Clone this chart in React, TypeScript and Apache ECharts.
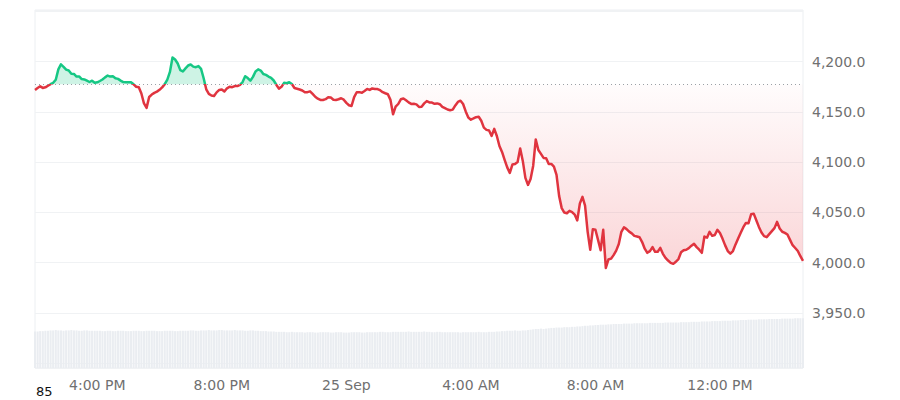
import React, { useEffect, useRef } from "react";
import * as echarts from "echarts";

// ---- data (5-minute steps, starting 24 Sep 14:00) ----
const START_HOUR = 14; // 24 Sep, 14:00
const STEP_MIN = 5;
const BASELINE = 4177.5;

const prices = [
  4171.9, 4173.8, 4175.5, 4173.9, 4174.5, 4176.1, 4177.6, 4179.0, 4182.1, 4192.4,
  4197.3, 4194.9, 4192.1, 4191.3, 4188.0, 4187.8, 4185.2, 4185.4, 4182.7, 4182.4,
  4181.1, 4179.8, 4181.1, 4179.1, 4179.5, 4180.8, 4182.3, 4184.4, 4186.2, 4185.2,
  4185.5, 4183.5, 4182.9, 4181.2, 4179.7, 4179.5, 4179.5, 4179.5, 4177.5, 4175.1,
  4174.5, 4168.3, 4158.4, 4154.0, 4164.9, 4167.3, 4169.0, 4170.2, 4172.0, 4174.4,
  4177.7, 4182.2, 4189.8, 4204.2, 4202.2, 4198.2, 4191.6, 4190.3, 4193.4, 4196.2,
  4197.2, 4195.1, 4194.5, 4195.7, 4192.9, 4183.5, 4172.5, 4168.0, 4166.4, 4165.8,
  4169.5, 4171.9, 4172.4, 4170.3, 4173.5, 4175.1, 4174.6, 4175.8, 4175.8, 4177.0,
  4179.7, 4185.6, 4183.7, 4181.1, 4184.9, 4190.3, 4192.4, 4191.2, 4187.7, 4186.9,
  4185.2, 4183.9, 4181.3, 4177.1, 4173.2, 4175.0, 4179.0, 4178.6, 4179.6, 4177.8,
  4173.8, 4173.1, 4172.3, 4171.3, 4169.5, 4169.7, 4170.5, 4167.9, 4165.1, 4163.2,
  4161.9, 4161.9, 4162.7, 4164.7, 4164.3, 4162.2, 4161.9, 4162.6, 4163.6, 4162.2,
  4159.0, 4156.7, 4155.9, 4164.7, 4169.6, 4169.7, 4169.1, 4170.9, 4172.8, 4171.9,
  4173.4, 4172.9, 4172.8, 4171.6, 4169.7, 4168.6, 4167.6, 4162.0, 4147.7, 4155.2,
  4157.9, 4162.6, 4163.4, 4161.6, 4159.5, 4158.0, 4158.1, 4157.5, 4155.0, 4155.2,
  4158.5, 4160.8, 4159.5, 4159.3, 4158.1, 4158.5, 4157.7, 4155.1, 4153.8, 4152.4,
  4151.7, 4152.3, 4156.5, 4160.0, 4161.2, 4157.9, 4150.5, 4144.4, 4142.3, 4143.5,
  4144.8, 4145.2, 4141.2, 4134.4, 4132.1, 4131.5, 4126.1, 4133.1, 4126.0, 4116.1,
  4110.2, 4102.3, 4094.8, 4089.3, 4097.6, 4098.1, 4100.2, 4113.6, 4101.2, 4084.3,
  4077.3, 4083.3, 4096.2, 4122.6, 4112.1, 4108.2, 4104.2, 4103.8, 4098.2, 4098.2,
  4095.5, 4087.3, 4066.4, 4054.2, 4049.8, 4049.1, 4051.5, 4050.3, 4047.8, 4042.0,
  4058.8, 4065.4, 4056.6, 4030.6, 4012.7, 4033.2, 4032.7, 4022.6, 4012.2, 4032.6,
  3994.7, 4003.0, 4003.9, 4007.4, 4011.9, 4018.4, 4030.6, 4035.1, 4033.3, 4030.8,
  4029.1, 4026.6, 4026.0, 4025.2, 4020.4, 4013.8, 4009.7, 4011.4, 4015.4, 4010.7,
  4010.7, 4014.6, 4008.7, 4004.7, 4002.0, 3999.7, 3998.7, 4000.8, 4003.5, 4010.2,
  4012.2, 4012.8, 4014.4, 4016.8, 4018.6, 4015.4, 4012.8, 4009.7, 4025.9, 4024.8,
  4030.6, 4026.6, 4027.4, 4032.6, 4029.4, 4023.6, 4017.1, 4011.5, 4008.9, 4011.5,
  4018.1, 4024.0, 4029.7, 4035.2, 4039.5, 4039.2, 4048.1, 4048.7, 4042.2, 4035.5,
  4030.0, 4026.3, 4025.3, 4028.3, 4031.3, 4034.3, 4040.5, 4034.0, 4030.7, 4029.6,
  4027.9, 4022.6, 4017.3, 4014.5, 4011.5, 4006.3, 4001.7,
];

const volumes = [
  10.2, 10.2, 10.3, 10.3, 10.4, 10.4,
  10.5, 10.5, 10.6, 10.5, 10.5, 10.4, 10.5, 10.5, 10.6, 10.5, 10.5, 10.4, 10.4, 10.5, 10.5, 10.4, 10.4, 10.4, 10.4,
  10.4, 10.3, 10.3, 10.4, 10.4, 10.3, 10.3, 10.4, 10.4, 10.4, 10.3, 10.3, 10.3, 10.4, 10.4, 10.4, 10.3, 10.3, 10.4, 10.4,
  10.4, 10.4, 10.3, 10.3, 10.3, 10.4, 10.4, 10.4, 10.4, 10.3, 10.3, 10.4, 10.4, 10.4, 10.4, 10.5, 10.5, 10.4, 10.4,
  10.5, 10.5, 10.5, 10.6, 10.5, 10.5, 10.5, 10.6, 10.6, 10.5, 10.5, 10.5, 10.5, 10.6, 10.5, 10.5, 10.5, 10.4, 10.4, 10.5,
  10.5, 10.4, 10.4, 10.3, 10.3,
  10.3, 10.2, 10.2, 10.2, 10.1, 10.1, 10.1, 10.1, 10.0, 10.0, 10.1, 10.0, 10.0,
  10.0, 10.0, 9.9, 10.0, 10.0, 10.0, 9.9, 9.9, 10.0, 10.0, 10.0, 10.0, 9.9, 9.9, 10.0, 10.0, 10.0, 9.9, 9.9, 9.9,
  10.0, 10.0, 10.0, 10.0, 9.9, 9.9, 10.0, 10.0, 10.0, 10.0, 10.0, 10.1, 10.1, 10.0, 10.0, 10.0, 10.1, 10.1, 10.1,
  10.1, 10.1, 10.1, 10.2, 10.1, 10.1, 10.1, 10.1, 10.1, 10.2, 10.1, 10.1, 10.0, 10.0, 10.1, 10.1, 10.0, 10.0, 10.0,
  10.0, 10.0, 10.0, 10.0, 9.9, 10.0, 10.0, 10.0, 10.0, 10.0, 10.0, 10.1, 10.0, 10.0, 10.0, 10.1, 10.1, 10.1, 10.2,
  10.2, 10.3, 10.3, 10.4, 10.4, 10.4, 10.5, 10.4, 10.4, 10.5, 10.5, 10.6, 10.7,
  10.8, 10.9, 10.9, 11.0, 10.9, 11.0, 11.1,
  11.2, 11.2, 11.3, 11.3, 11.3, 11.4, 11.4, 11.4, 11.5, 11.5, 11.6, 11.6, 11.7,
  11.8, 11.8, 11.9, 11.9, 12.0, 12.0, 12.1, 12.1, 12.1, 12.2, 12.2, 12.3, 12.3,
  12.3, 12.3, 12.4, 12.4, 12.4, 12.4, 12.5, 12.5, 12.5, 12.5, 12.5, 12.5, 12.6, 12.6, 12.6, 12.6, 12.6, 12.6, 12.7, 12.7,
  12.7, 12.7, 12.7, 12.7, 12.8, 12.8,
  12.8, 12.8, 12.9, 12.9, 12.9, 12.9, 13.0, 13.0, 13.0, 13.0, 13.1, 13.1, 13.1, 13.1, 13.2, 13.2, 13.2, 13.2, 13.3, 13.3,
  13.3, 13.4, 13.4, 13.4, 13.5, 13.5,
  13.5, 13.5, 13.6, 13.6, 13.6, 13.6, 13.7, 13.7, 13.7, 13.7, 13.7, 13.8, 13.8, 13.8, 13.8, 13.8, 13.9, 13.9, 13.9, 13.9,
];

// tick labels keyed by clock time "day hh:mm"
const xTickKeys = ["24 16:00", "24 20:00", "25 00:00", "25 04:00", "25 08:00", "25 12:00"];
const xTickLabels = ["4:00 PM", "8:00 PM", "25 Sep", "4:00 AM", "8:00 AM", "12:00 PM"];
const yTickValues = [3950, 4000, 4050, 4100, 4150, 4200];

const GREEN = "#16c784";
const RED = "#e0343f";
const AXIS_FONT = '"DejaVu Sans", "Liberation Sans", sans-serif';

const pad = (n: number) => (n < 10 ? "0" + n : "" + n);
const categories = prices.map((_, i) => {
  const total = START_HOUR * 60 + i * STEP_MIN;
  const day = 24 + Math.floor(total / 1440);
  const m = total % 1440;
  return `${day} ${pad(Math.floor(m / 60))}:${pad(m % 60)}`;
});

export default function App() {
  const ref = useRef<HTMLDivElement>(null);

  useEffect(() => {
    if (!ref.current) return;
    const chart = echarts.init(ref.current, undefined, { renderer: "svg" });

    const upData = prices.map((p) => Math.max(p, BASELINE));
    const downData = prices.map((p) => Math.min(p, BASELINE));

    chart.setOption({
      animation: false,
      backgroundColor: "#ffffff",
      grid: {
        left: 35,
        right: 97,
        top: 10,
        bottom: 32,
        show: true,
        borderColor: "#eceff2",
        borderWidth: 1,
      },
      xAxis: {
        type: "category",
        data: categories,
        boundaryGap: false,
        axisLine: { show: false },
        axisTick: { show: false },
        splitLine: { show: false },
        axisLabel: {
          interval: (_idx: number, value: string) => xTickKeys.indexOf(value) >= 0,
          formatter: (value: string) => {
            const idx = xTickKeys.indexOf(value);
            return idx >= 0 ? xTickLabels[idx] : "";
          },
          color: "#707070",
          fontSize: 14,
          fontFamily: AXIS_FONT,
          margin: 10,
        },
      },
      yAxis: [
        {
          type: "value",
          position: "right",
          min: 3895,
          max: 4251.5,
          splitNumber: 7,
          axisLine: { show: false },
          axisTick: { show: false },
          splitLine: { lineStyle: { color: "#f0f2f4", width: 1 } },
          axisLabel: {
            showMinLabel: false,
            showMaxLabel: false,
            margin: 9,
            color: "#707070",
            fontSize: 14,
            fontFamily: AXIS_FONT,
            formatter: (v: number) =>
              yTickValues.indexOf(v) >= 0
                ? v.toLocaleString("en-US", { minimumFractionDigits: 1, maximumFractionDigits: 1 })
                : "",
          },
        },
        {
          type: "value",
          show: false,
          min: 0,
          max: 100,
          splitLine: { show: false },
        },
      ],
      visualMap: {
        type: "piecewise",
        show: false,
        seriesIndex: 3,
        dimension: 1,
        pieces: [
          { gt: BASELINE, lte: 10000, color: GREEN },
          { gt: 0, lte: BASELINE, color: RED },
        ],
        outOfRange: { color: RED },
      },
      series: [
        {
          name: "volume",
          type: "bar",
          yAxisIndex: 1,
          data: volumes,
          barCategoryGap: "20%",
          silent: true,
          itemStyle: { color: "#eaedf1" },
          z: 1,
        },
        {
          name: "up",
          type: "line",
          data: upData,
          symbol: "none",
          silent: true,
          lineStyle: { width: 0, opacity: 0 },
          areaStyle: { origin: BASELINE, color: "rgba(22,199,132,0.30)" },
          z: 2,
        },
        {
          name: "down",
          type: "line",
          data: downData,
          symbol: "none",
          silent: true,
          lineStyle: { width: 0, opacity: 0 },
          areaStyle: {
            origin: BASELINE,
            color: new echarts.graphic.LinearGradient(0, 0, 0, 1, [
              { offset: 0, color: "rgba(234,57,67,0.02)" },
              { offset: 1, color: "rgba(234,57,67,0.30)" },
            ]),
          },
          markLine: {
            silent: true,
            symbol: ["none", "none"],
            label: { show: false },
            lineStyle: { color: "#9aa0a6", type: [1, 3], width: 1 },
            data: [{ yAxis: BASELINE }],
          },
          z: 3,
        },
        {
          name: "price",
          type: "line",
          data: prices,
          symbol: "none",
          silent: true,
          lineStyle: { width: 2.5, join: "round" },
          z: 4,
        },
      ],
      graphic: [
        {
          type: "text",
          left: 36,
          top: 385,
          style: {
            text: "85",
            fontSize: 13,
            fontFamily: AXIS_FONT,
            fill: "#111111",
          },
        },
      ],
    });

    return () => chart.dispose();
  }, []);

  return (
    <div
      ref={ref}
      style={{ position: "absolute", left: 0, top: 0, width: 900, height: 400 }}
    />
  );
}
